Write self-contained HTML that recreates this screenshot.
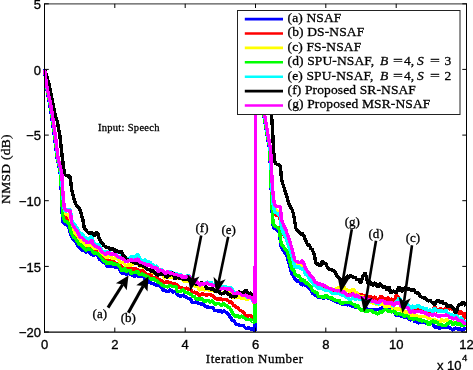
<!DOCTYPE html>
<html><head><meta charset="utf-8"><title>NMSD</title>
<style>
html,body{margin:0;padding:0;background:#fff;}
body{width:473px;height:370px;position:relative;overflow:hidden;font-family:"Liberation Sans",sans-serif;}
.t{position:absolute;white-space:nowrap;line-height:1;color:#000;}
.yt{font-family:"Liberation Sans",sans-serif;font-size:13px;-webkit-text-stroke:0.35px #000;text-align:right;width:40px;left:1px;}
.xt{font-family:"Liberation Sans",sans-serif;font-size:13px;-webkit-text-stroke:0.35px #000;text-align:center;width:40px;}
.s{font-family:"Liberation Serif",serif;-webkit-text-stroke:0.3px #000;}
.lg{-webkit-text-stroke:0.3px #000;font-family:"Liberation Serif",serif;font-size:13.5px;left:287.6px;letter-spacing:0.12px;}
.an{-webkit-text-stroke:0.3px #000;font-family:"Liberation Serif",serif;font-size:13px;text-align:center;width:30px;}
</style></head><body>
<svg width="473" height="370" viewBox="0 0 473 370" style="position:absolute;left:0;top:0">
<defs><filter id="bl" x="0" y="0" width="473" height="370" filterUnits="userSpaceOnUse"><feGaussianBlur stdDeviation="0.4"/></filter></defs>
<rect x="0" y="0" width="473" height="370" fill="#fff"/>
<g fill="none" stroke-width="3.4" stroke-linejoin="bevel" stroke-linecap="butt" shape-rendering="crispEdges" filter="url(#bl)">
<path d="M44.6 69.4 L45.5 79.4 L46.4 87.1 L47.3 91.8 L48.2 96.5 L49.1 101.3 L50.0 106.0 L50.9 112.1 L51.8 118.3 L52.7 124.4 L53.6 130.5 L54.5 136.8 L55.4 144.5 L56.3 152.1 L57.2 158.9 L58.1 162.7 L59.0 166.6 L59.9 170.4 L60.8 179.6 L61.7 203.0 L62.6 222.0 L63.5 222.7 L64.4 223.5 L65.3 224.2 L66.2 224.7 L67.1 225.4 L68.0 226.3 L68.9 227.1 L69.8 231.2 L70.7 234.8 L71.6 236.6 L72.5 238.2 L73.4 239.5 L74.3 239.9 L75.2 241.3 L76.1 242.1 L77.0 244.1 L77.9 245.6 L78.8 247.3 L79.7 247.9 L80.6 248.1 L81.5 249.4 L82.4 250.4 L83.3 250.2 L84.2 250.2 L85.1 251.7 L86.0 251.8 L86.9 252.7 L87.8 250.0 L88.7 250.5 L89.6 251.9 L90.5 253.9 L91.4 254.0 L92.3 254.8 L93.2 255.5 L94.1 254.9 L95.0 254.9 L95.9 254.2 L96.8 255.0 L97.7 255.5 L98.6 257.5 L99.5 259.4 L100.4 260.0 L101.3 260.3 L102.2 261.4 L103.1 261.5 L104.0 262.8 L104.9 263.0 L105.8 263.1 L106.7 266.7 L107.6 266.4 L108.5 266.3 L109.4 265.4 L110.3 265.8 L111.2 266.1 L112.1 265.7 L113.0 266.3 L113.9 266.7 L114.8 267.0 L115.7 267.7 L116.6 267.8 L117.5 266.6 L118.4 267.7 L119.3 268.8 L120.2 270.5 L121.1 272.5 L122.0 273.6 L122.9 273.1 L123.8 272.1 L124.7 272.1 L125.6 274.0 L126.5 274.3 L127.4 274.1 L128.3 272.6 L129.2 273.2 L130.1 273.3 L131.0 275.4 L131.9 274.8 L132.8 274.6 L133.7 275.6 L134.6 276.3 L135.5 275.4 L136.4 274.5 L137.3 275.1 L138.2 275.7 L139.1 277.1 L140.0 276.3 L140.9 276.2 L141.8 275.9 L142.7 277.0 L143.6 276.8 L144.5 278.5 L145.4 279.1 L146.3 280.0 L147.2 279.7 L148.1 280.4 L149.0 282.0 L149.9 282.7 L150.8 282.5 L151.7 283.4 L152.6 283.8 L153.5 283.9 L154.4 283.9 L155.3 284.4 L156.2 285.2 L157.1 286.1 L158.0 284.6 L158.9 285.1 L159.8 285.6 L160.7 287.0 L161.6 288.0 L162.5 289.5 L163.4 290.3 L164.3 290.0 L165.2 290.5 L166.1 291.3 L167.0 291.0 L167.9 291.6 L168.8 291.2 L169.7 290.3 L170.6 289.7 L171.5 290.7 L172.4 291.7 L173.3 292.2 L174.2 291.4 L175.1 291.5 L176.0 292.0 L176.9 294.1 L177.8 294.9 L178.7 295.5 L179.6 295.9 L180.5 296.4 L181.4 296.3 L182.3 294.7 L183.2 295.4 L184.1 296.2 L185.0 296.7 L185.9 296.8 L186.8 297.3 L187.7 298.2 L188.6 298.4 L189.5 298.5 L190.4 300.0 L191.3 300.2 L192.2 302.1 L193.1 303.3 L194.0 301.7 L194.9 302.8 L195.8 301.7 L196.7 301.7 L197.6 302.9 L198.5 303.7 L199.4 303.3 L200.3 304.0 L201.2 304.1 L202.1 303.8 L203.0 304.3 L203.9 305.0 L204.8 305.9 L205.7 306.9 L206.6 306.8 L207.5 307.2 L208.4 306.7 L209.3 307.7 L210.2 307.4 L211.1 307.7 L212.0 307.3 L212.9 307.9 L213.8 309.1 L214.7 310.6 L215.6 310.6 L216.5 310.2 L217.4 310.3 L218.3 311.1 L219.2 311.8 L220.1 310.4 L221.0 311.2 L221.9 312.5 L222.8 311.6 L223.7 310.9 L224.6 311.1 L225.5 311.9 L226.4 312.5 L227.3 312.8 L228.2 314.6 L229.1 315.2 L230.0 317.0 L230.9 317.2 L231.8 319.6 L232.7 320.8 L233.6 320.5 L234.5 322.0 L235.4 322.8 L236.3 324.5 L237.2 324.5 L238.1 324.3 L239.0 325.6 L239.9 325.8 L240.8 325.7 L241.7 325.5 L242.6 325.4 L243.5 325.5 L244.4 327.0 L245.3 327.8 L246.2 328.5 L247.1 328.3 L248.0 327.8 L248.9 327.7 L249.8 329.1 L250.7 328.9 L251.6 329.3 L252.5 329.3 L253.4 329.0 L254.3 329.3 L255.2 331.1 L255.3 69.4 L255.3 69.4 L256.2 75.8 L257.1 82.2 L258.0 87.8 L258.9 92.8 L259.8 97.8 L260.7 102.1 L261.6 106.0 L262.5 109.9 L263.4 113.7 L264.3 118.6 L265.2 124.1 L266.1 129.5 L267.0 135.0 L267.9 139.8 L268.8 144.6 L269.7 149.4 L270.6 172.7 L271.5 197.8 L272.4 216.2 L273.3 227.3 L274.2 228.1 L275.1 228.7 L276.0 229.3 L276.9 230.2 L277.8 230.9 L278.7 231.5 L279.6 234.3 L280.5 243.2 L281.4 247.6 L282.3 249.0 L283.2 250.0 L284.1 251.8 L285.0 253.5 L285.9 254.5 L286.8 255.8 L287.7 258.4 L288.6 261.8 L289.5 265.1 L290.4 269.0 L291.3 272.4 L292.2 274.9 L293.1 275.1 L294.0 277.2 L294.9 279.4 L295.8 279.8 L296.7 280.7 L297.6 281.2 L298.5 281.0 L299.4 281.5 L300.3 282.3 L301.2 284.6 L302.1 284.9 L303.0 284.6 L303.9 283.3 L304.8 284.9 L305.7 286.5 L306.6 285.5 L307.5 285.8 L308.4 287.0 L309.3 288.8 L310.2 289.3 L311.1 289.9 L312.0 292.5 L312.9 293.6 L313.8 294.0 L314.7 295.1 L315.6 296.1 L316.5 295.4 L317.4 296.1 L318.3 297.6 L319.2 297.7 L320.1 297.3 L321.0 297.6 L321.9 297.7 L322.8 297.9 L323.7 298.1 L324.6 297.7 L325.5 296.6 L326.4 297.0 L327.3 297.3 L328.2 298.4 L329.1 298.1 L330.0 298.7 L330.9 299.0 L331.8 299.1 L332.7 299.7 L333.6 300.5 L334.5 300.9 L335.4 301.3 L336.3 301.7 L337.2 302.1 L338.1 301.9 L339.0 301.6 L339.9 303.2 L340.8 303.9 L341.7 303.5 L342.6 304.3 L343.5 304.5 L344.4 303.9 L345.3 304.0 L346.2 304.0 L347.1 305.0 L348.0 305.0 L348.9 304.1 L349.8 304.5 L350.7 305.4 L351.6 305.6 L352.5 306.4 L353.4 306.4 L354.3 306.5 L355.2 307.3 L356.1 307.6 L357.0 306.6 L357.9 307.2 L358.8 308.3 L359.7 309.2 L360.6 309.6 L361.5 309.2 L362.4 309.5 L363.3 309.8 L364.2 309.9 L365.1 309.9 L366.0 309.4 L366.9 309.0 L367.8 308.9 L368.7 310.1 L369.6 309.9 L370.5 310.3 L371.4 309.2 L372.3 309.4 L373.2 309.7 L374.1 309.9 L375.0 309.6 L375.9 309.5 L376.8 309.7 L377.7 309.5 L378.6 309.4 L379.5 309.4 L380.4 308.9 L381.3 308.9 L382.2 308.6 L383.1 307.1 L384.0 307.0 L384.9 308.0 L385.8 308.1 L386.7 308.7 L387.6 309.4 L388.5 310.8 L389.4 310.9 L390.3 309.3 L391.2 309.9 L392.1 311.2 L393.0 311.7 L393.9 312.4 L394.8 313.0 L395.7 314.7 L396.6 315.5 L397.5 315.6 L398.4 314.9 L399.3 315.2 L400.2 315.8 L401.1 316.0 L402.0 316.5 L402.9 316.7 L403.8 316.9 L404.7 317.5 L405.6 317.3 L406.5 317.2 L407.4 317.6 L408.3 318.2 L409.2 319.3 L410.1 319.8 L411.0 319.8 L411.9 319.0 L412.8 319.6 L413.7 320.1 L414.6 321.3 L415.5 321.6 L416.4 321.8 L417.3 322.0 L418.2 322.8 L419.1 322.8 L420.0 321.4 L420.9 320.7 L421.8 321.7 L422.7 323.1 L423.6 321.9 L424.5 321.4 L425.4 322.6 L426.3 323.1 L427.2 323.4 L428.1 324.1 L429.0 324.0 L429.9 324.2 L430.8 323.8 L431.7 323.6 L432.6 323.4 L433.5 325.5 L434.4 327.4 L435.3 326.9 L436.2 327.1 L437.1 327.1 L438.0 327.6 L438.9 328.5 L439.8 328.3 L440.7 327.7 L441.6 326.2 L442.5 327.4 L443.4 326.9 L444.3 327.4 L445.2 327.4 L446.1 327.8 L447.0 327.5 L447.9 327.1 L448.8 327.3 L449.7 327.5 L450.6 328.3 L451.5 329.0 L452.4 329.9 L453.3 329.9 L454.2 328.8 L455.1 327.9 L456.0 328.4 L456.9 328.5 L457.8 329.0 L458.7 328.9 L459.6 328.6 L460.5 329.5 L461.4 329.7 L462.3 330.0 L463.2 329.5 L464.1 328.9 L465.0 328.9 L465.9 329.5" stroke="#0000ff"/>
<path d="M44.6 69.4 L45.5 77.4 L46.4 84.9 L47.3 89.5 L48.2 93.9 L49.1 98.3 L50.0 102.7 L50.9 107.6 L51.8 113.7 L52.7 119.9 L53.6 126.2 L54.5 132.5 L55.4 139.3 L56.3 147.0 L57.2 154.4 L58.1 160.3 L59.0 164.0 L59.9 167.8 L60.8 174.1 L61.7 187.7 L62.6 204.8 L63.5 211.5 L64.4 216.2 L65.3 217.0 L66.2 217.7 L67.1 218.0 L68.0 218.5 L68.9 218.9 L69.8 221.4 L70.7 224.9 L71.6 229.5 L72.5 231.9 L73.4 233.0 L74.3 233.8 L75.2 235.3 L76.1 236.7 L77.0 238.1 L77.9 239.2 L78.8 240.8 L79.7 242.5 L80.6 242.9 L81.5 244.0 L82.4 244.1 L83.3 244.6 L84.2 245.9 L85.1 247.6 L86.0 247.0 L86.9 248.1 L87.8 246.6 L88.7 247.1 L89.6 248.4 L90.5 247.8 L91.4 247.4 L92.3 247.9 L93.2 250.5 L94.1 251.5 L95.0 251.4 L95.9 249.9 L96.8 251.1 L97.7 251.4 L98.6 252.3 L99.5 253.9 L100.4 254.5 L101.3 254.7 L102.2 256.3 L103.1 257.3 L104.0 259.5 L104.9 259.9 L105.8 260.5 L106.7 262.0 L107.6 260.9 L108.5 260.1 L109.4 260.3 L110.3 261.4 L111.2 261.8 L112.1 260.8 L113.0 261.1 L113.9 262.0 L114.8 263.4 L115.7 263.9 L116.6 264.5 L117.5 263.2 L118.4 263.4 L119.3 265.2 L120.2 265.6 L121.1 266.5 L122.0 266.5 L122.9 267.9 L123.8 268.0 L124.7 267.9 L125.6 268.7 L126.5 269.4 L127.4 270.0 L128.3 268.1 L129.2 268.3 L130.1 268.0 L131.0 269.2 L131.9 269.0 L132.8 268.8 L133.7 269.2 L134.6 269.5 L135.5 268.8 L136.4 269.2 L137.3 269.5 L138.2 270.0 L139.1 271.5 L140.0 271.2 L140.9 271.5 L141.8 270.1 L142.7 270.9 L143.6 271.3 L144.5 272.8 L145.4 273.1 L146.3 274.4 L147.2 274.8 L148.1 274.9 L149.0 275.7 L149.9 274.1 L150.8 274.3 L151.7 275.6 L152.6 277.8 L153.5 277.7 L154.4 278.2 L155.3 278.2 L156.2 277.9 L157.1 278.5 L158.0 279.4 L158.9 279.6 L159.8 279.8 L160.7 280.3 L161.6 280.5 L162.5 281.6 L163.4 282.0 L164.3 282.5 L165.2 282.8 L166.1 281.9 L167.0 281.5 L167.9 281.9 L168.8 283.1 L169.7 282.5 L170.6 282.2 L171.5 283.2 L172.4 283.5 L173.3 283.8 L174.2 283.7 L175.1 283.9 L176.0 285.0 L176.9 284.7 L177.8 285.2 L178.7 286.8 L179.6 287.8 L180.5 287.2 L181.4 287.2 L182.3 288.3 L183.2 288.5 L184.1 289.5 L185.0 289.0 L185.9 288.0 L186.8 288.4 L187.7 288.8 L188.6 289.4 L189.5 289.5 L190.4 289.9 L191.3 290.2 L192.2 291.9 L193.1 292.9 L194.0 291.9 L194.9 292.4 L195.8 293.2 L196.7 293.0 L197.6 293.0 L198.5 294.6 L199.4 295.2 L200.3 295.1 L201.2 294.7 L202.1 293.8 L203.0 294.1 L203.9 294.9 L204.8 294.4 L205.7 294.9 L206.6 295.0 L207.5 294.8 L208.4 294.6 L209.3 294.9 L210.2 294.5 L211.1 294.9 L212.0 295.4 L212.9 295.9 L213.8 296.7 L214.7 297.9 L215.6 298.2 L216.5 298.6 L217.4 299.4 L218.3 300.2 L219.2 299.4 L220.1 297.6 L221.0 298.6 L221.9 300.2 L222.8 299.8 L223.7 299.6 L224.6 299.8 L225.5 299.5 L226.4 299.5 L227.3 300.0 L228.2 300.8 L229.1 301.6 L230.0 303.0 L230.9 301.5 L231.8 302.1 L232.7 304.0 L233.6 305.9 L234.5 305.8 L235.4 306.5 L236.3 307.3 L237.2 307.5 L238.1 308.1 L239.0 309.6 L239.9 310.5 L240.8 310.7 L241.7 311.0 L242.6 311.7 L243.5 311.7 L244.4 314.3 L245.3 315.0 L246.2 315.6 L247.1 316.2 L248.0 316.4 L248.9 315.4 L249.8 315.7 L250.7 316.1 L251.6 316.1 L252.5 316.9 L253.4 317.0 L254.3 317.3 L255.2 318.3 L255.3 69.4 L255.3 69.4 L256.2 74.9 L257.1 80.3 L258.0 85.7 L258.9 90.3 L259.8 95.0 L260.7 99.5 L261.6 103.4 L262.5 107.2 L263.4 110.9 L264.3 115.0 L265.2 120.0 L266.1 125.5 L267.0 131.0 L267.9 136.3 L268.8 141.2 L269.7 146.1 L270.6 158.0 L271.5 180.4 L272.4 198.6 L273.3 208.4 L274.2 212.7 L275.1 214.2 L276.0 215.0 L276.9 215.4 L277.8 215.7 L278.7 216.0 L279.6 217.3 L280.5 220.6 L281.4 229.7 L282.3 231.8 L283.2 233.7 L284.1 235.6 L285.0 237.4 L285.9 238.5 L286.8 240.0 L287.7 241.7 L288.6 244.5 L289.5 247.8 L290.4 252.0 L291.3 254.7 L292.2 257.9 L293.1 260.4 L294.0 263.6 L294.9 266.6 L295.8 266.8 L296.7 267.7 L297.6 267.7 L298.5 267.7 L299.4 267.3 L300.3 268.2 L301.2 268.6 L302.1 268.4 L303.0 268.5 L303.9 269.0 L304.8 270.9 L305.7 273.1 L306.6 273.2 L307.5 274.1 L308.4 275.4 L309.3 277.9 L310.2 278.6 L311.1 279.4 L312.0 280.4 L312.9 281.5 L313.8 283.3 L314.7 285.1 L315.6 285.9 L316.5 284.4 L317.4 286.6 L318.3 288.0 L319.2 288.2 L320.1 287.6 L321.0 287.8 L321.9 288.5 L322.8 285.9 L323.7 285.6 L324.6 286.5 L325.5 289.0 L326.4 288.8 L327.3 288.3 L328.2 289.5 L329.1 290.1 L330.0 290.6 L330.9 290.6 L331.8 290.8 L332.7 292.1 L333.6 291.8 L334.5 291.8 L335.4 292.3 L336.3 292.3 L337.2 292.4 L338.1 292.0 L339.0 291.6 L339.9 291.5 L340.8 292.1 L341.7 291.8 L342.6 291.8 L343.5 291.9 L344.4 292.5 L345.3 293.5 L346.2 294.0 L347.1 296.0 L348.0 295.1 L348.9 295.7 L349.8 294.2 L350.7 293.2 L351.6 293.2 L352.5 291.5 L353.4 291.8 L354.3 293.6 L355.2 295.1 L356.1 293.6 L357.0 293.9 L357.9 294.3 L358.8 294.4 L359.7 296.3 L360.6 294.5 L361.5 294.5 L362.4 294.9 L363.3 295.5 L364.2 297.1 L365.1 296.8 L366.0 295.8 L366.9 295.8 L367.8 297.4 L368.7 296.7 L369.6 297.2 L370.5 297.0 L371.4 297.2 L372.3 298.8 L373.2 299.1 L374.1 297.3 L375.0 297.0 L375.9 298.4 L376.8 300.6 L377.7 300.9 L378.6 301.7 L379.5 298.0 L380.4 296.9 L381.3 296.5 L382.2 296.5 L383.1 298.2 L384.0 298.0 L384.9 300.0 L385.8 300.7 L386.7 300.1 L387.6 298.0 L388.5 297.8 L389.4 299.1 L390.3 300.2 L391.2 299.4 L392.1 298.7 L393.0 300.5 L393.9 300.8 L394.8 300.1 L395.7 295.9 L396.6 295.6 L397.5 296.3 L398.4 297.6 L399.3 298.7 L400.2 299.4 L401.1 303.3 L402.0 302.4 L402.9 303.6 L403.8 303.2 L404.7 304.1 L405.6 305.7 L406.5 305.3 L407.4 305.4 L408.3 305.5 L409.2 309.1 L410.1 311.4 L411.0 312.6 L411.9 309.5 L412.8 308.7 L413.7 309.7 L414.6 311.5 L415.5 310.4 L416.4 309.6 L417.3 307.8 L418.2 308.5 L419.1 307.7 L420.0 307.3 L420.9 308.5 L421.8 307.8 L422.7 309.0 L423.6 309.0 L424.5 310.2 L425.4 309.6 L426.3 308.7 L427.2 310.6 L428.1 311.6 L429.0 310.6 L429.9 310.7 L430.8 311.4 L431.7 312.1 L432.6 313.9 L433.5 309.1 L434.4 306.6 L435.3 307.6 L436.2 309.7 L437.1 310.6 L438.0 311.8 L438.9 311.0 L439.8 309.3 L440.7 308.5 L441.6 309.2 L442.5 309.7 L443.4 309.2 L444.3 309.8 L445.2 310.0 L446.1 307.2 L447.0 307.3 L447.9 308.2 L448.8 308.8 L449.7 309.1 L450.6 307.4 L451.5 308.0 L452.4 309.8 L453.3 309.6 L454.2 310.7 L455.1 309.5 L456.0 309.8 L456.9 309.5 L457.8 311.6 L458.7 313.5 L459.6 313.4 L460.5 311.3 L461.4 312.1 L462.3 313.4 L463.2 314.4 L464.1 317.8 L465.0 318.1 L465.9 312.5" stroke="#ff0000"/>
<path d="M44.6 69.4 L45.5 77.1 L46.4 84.5 L47.3 89.2 L48.2 93.5 L49.1 97.8 L50.0 102.1 L50.9 106.7 L51.8 112.7 L52.7 118.9 L53.6 125.1 L54.5 131.4 L55.4 137.9 L56.3 145.6 L57.2 153.1 L58.1 159.5 L59.0 163.2 L59.9 166.9 L60.8 172.1 L61.7 181.6 L62.6 197.9 L63.5 206.9 L64.4 213.1 L65.3 213.9 L66.2 214.7 L67.1 214.7 L68.0 215.0 L68.9 215.4 L69.8 216.6 L70.7 220.5 L71.6 226.6 L72.5 228.8 L73.4 230.2 L74.3 231.7 L75.2 233.1 L76.1 234.5 L77.0 234.9 L77.9 236.3 L78.8 238.4 L79.7 240.0 L80.6 240.3 L81.5 241.2 L82.4 241.6 L83.3 242.7 L84.2 243.0 L85.1 244.2 L86.0 244.8 L86.9 246.7 L87.8 244.1 L88.7 243.6 L89.6 245.3 L90.5 244.9 L91.4 243.9 L92.3 244.9 L93.2 248.3 L94.1 248.2 L95.0 248.1 L95.9 247.2 L96.8 248.0 L97.7 248.7 L98.6 249.0 L99.5 250.5 L100.4 251.3 L101.3 253.4 L102.2 254.3 L103.1 255.0 L104.0 254.7 L104.9 255.8 L105.8 256.7 L106.7 257.5 L107.6 256.6 L108.5 257.1 L109.4 256.6 L110.3 256.6 L111.2 257.2 L112.1 258.2 L113.0 258.3 L113.9 258.7 L114.8 257.9 L115.7 258.0 L116.6 258.3 L117.5 258.5 L118.4 259.6 L119.3 261.1 L120.2 262.3 L121.1 262.8 L122.0 261.7 L122.9 262.7 L123.8 263.2 L124.7 264.1 L125.6 265.7 L126.5 265.7 L127.4 265.2 L128.3 265.0 L129.2 265.5 L130.1 264.8 L131.0 265.2 L131.9 264.8 L132.8 264.3 L133.7 264.0 L134.6 263.4 L135.5 262.4 L136.4 262.7 L137.3 263.1 L138.2 262.9 L139.1 265.7 L140.0 265.9 L140.9 265.7 L141.8 266.1 L142.7 267.0 L143.6 266.9 L144.5 266.8 L145.4 267.6 L146.3 268.0 L147.2 269.3 L148.1 269.2 L149.0 269.5 L149.9 270.5 L150.8 271.1 L151.7 271.9 L152.6 272.6 L153.5 273.1 L154.4 272.8 L155.3 272.7 L156.2 272.1 L157.1 272.3 L158.0 274.8 L158.9 274.2 L159.8 273.6 L160.7 274.1 L161.6 274.8 L162.5 274.6 L163.4 276.1 L164.3 277.6 L165.2 278.3 L166.1 276.6 L167.0 276.8 L167.9 276.5 L168.8 277.0 L169.7 277.6 L170.6 277.6 L171.5 276.9 L172.4 276.1 L173.3 276.6 L174.2 278.6 L175.1 278.2 L176.0 278.4 L176.9 278.2 L177.8 278.4 L178.7 278.0 L179.6 277.9 L180.5 277.9 L181.4 279.0 L182.3 279.9 L183.2 280.1 L184.1 280.2 L185.0 281.7 L185.9 281.5 L186.8 281.2 L187.7 280.7 L188.6 281.3 L189.5 280.6 L190.4 282.1 L191.3 282.6 L192.2 282.8 L193.1 284.4 L194.0 284.9 L194.9 285.7 L195.8 286.5 L196.7 286.7 L197.6 286.1 L198.5 288.1 L199.4 289.8 L200.3 290.3 L201.2 288.4 L202.1 287.7 L203.0 288.7 L203.9 290.2 L204.8 289.7 L205.7 289.3 L206.6 288.6 L207.5 289.0 L208.4 289.8 L209.3 290.4 L210.2 289.7 L211.1 289.1 L212.0 290.5 L212.9 290.8 L213.8 291.0 L214.7 290.8 L215.6 291.4 L216.5 291.5 L217.4 290.9 L218.3 291.8 L219.2 291.8 L220.1 293.1 L221.0 293.0 L221.9 294.0 L222.8 292.6 L223.7 292.1 L224.6 292.3 L225.5 292.4 L226.4 292.1 L227.3 292.5 L228.2 293.3 L229.1 292.4 L230.0 292.4 L230.9 294.2 L231.8 295.4 L232.7 296.5 L233.6 297.8 L234.5 297.5 L235.4 298.1 L236.3 297.4 L237.2 295.9 L238.1 296.2 L239.0 297.3 L239.9 297.5 L240.8 298.2 L241.7 298.5 L242.6 298.7 L243.5 298.7 L244.4 298.2 L245.3 298.1 L246.2 297.8 L247.1 300.0 L248.0 299.6 L248.9 298.7 L249.8 297.7 L250.7 298.3 L251.6 298.9 L252.5 300.5 L253.4 302.1 L254.3 304.0 L255.2 303.0 L255.3 69.4 L255.3 69.4 L256.2 74.7 L257.1 80.1 L258.0 85.3 L258.9 89.9 L259.8 94.5 L260.7 99.0 L261.6 102.9 L262.5 106.6 L263.4 110.3 L264.3 114.2 L265.2 119.0 L266.1 124.5 L267.0 130.0 L267.9 135.3 L268.8 140.2 L269.7 145.1 L270.6 153.4 L271.5 174.8 L272.4 192.8 L273.3 202.3 L274.2 207.7 L275.1 209.5 L276.0 210.4 L276.9 210.8 L277.8 211.2 L278.7 211.4 L279.6 212.0 L280.5 213.7 L281.4 224.6 L282.3 227.1 L283.2 228.8 L284.1 230.5 L285.0 232.4 L285.9 233.8 L286.8 236.4 L287.7 239.0 L288.6 241.3 L289.5 244.2 L290.4 247.8 L291.3 250.8 L292.2 253.9 L293.1 256.5 L294.0 260.6 L294.9 263.9 L295.8 264.1 L296.7 264.0 L297.6 264.5 L298.5 266.1 L299.4 265.7 L300.3 267.4 L301.2 264.6 L302.1 263.6 L303.0 263.9 L303.9 267.2 L304.8 269.4 L305.7 271.2 L306.6 271.3 L307.5 272.2 L308.4 272.6 L309.3 275.4 L310.2 276.4 L311.1 276.9 L312.0 278.7 L312.9 279.6 L313.8 280.6 L314.7 283.7 L315.6 284.1 L316.5 284.0 L317.4 283.8 L318.3 284.4 L319.2 284.2 L320.1 284.6 L321.0 284.9 L321.9 286.2 L322.8 285.8 L323.7 285.7 L324.6 286.1 L325.5 287.2 L326.4 287.0 L327.3 286.7 L328.2 288.0 L329.1 288.6 L330.0 288.4 L330.9 288.4 L331.8 289.0 L332.7 289.7 L333.6 288.9 L334.5 289.6 L335.4 290.0 L336.3 288.7 L337.2 288.4 L338.1 287.8 L339.0 288.0 L339.9 288.0 L340.8 289.0 L341.7 289.1 L342.6 288.3 L343.5 288.2 L344.4 287.2 L345.3 289.0 L346.2 289.3 L347.1 290.8 L348.0 290.7 L348.9 291.0 L349.8 291.4 L350.7 290.7 L351.6 291.2 L352.5 289.0 L353.4 289.4 L354.3 290.2 L355.2 293.9 L356.1 292.7 L357.0 292.8 L357.9 294.5 L358.8 295.2 L359.7 297.3 L360.6 296.5 L361.5 296.2 L362.4 296.6 L363.3 297.8 L364.2 298.7 L365.1 298.7 L366.0 298.7 L366.9 300.0 L367.8 300.3 L368.7 299.3 L369.6 300.4 L370.5 301.4 L371.4 302.4 L372.3 302.5 L373.2 303.4 L374.1 303.0 L375.0 303.8 L375.9 304.3 L376.8 304.2 L377.7 304.3 L378.6 304.5 L379.5 303.4 L380.4 303.4 L381.3 304.4 L382.2 304.0 L383.1 303.5 L384.0 304.5 L384.9 306.9 L385.8 306.9 L386.7 307.0 L387.6 306.1 L388.5 306.5 L389.4 307.1 L390.3 306.0 L391.2 306.9 L392.1 307.5 L393.0 309.8 L393.9 310.1 L394.8 308.9 L395.7 308.6 L396.6 309.5 L397.5 309.2 L398.4 308.8 L399.3 309.3 L400.2 308.5 L401.1 310.2 L402.0 311.0 L402.9 311.8 L403.8 311.7 L404.7 312.5 L405.6 312.2 L406.5 311.4 L407.4 311.3 L408.3 311.5 L409.2 315.5 L410.1 316.6 L411.0 317.2 L411.9 315.2 L412.8 315.0 L413.7 315.4 L414.6 316.6 L415.5 316.4 L416.4 315.8 L417.3 316.3 L418.2 317.1 L419.1 316.4 L420.0 316.5 L420.9 316.3 L421.8 316.2 L422.7 317.1 L423.6 316.4 L424.5 316.8 L425.4 316.8 L426.3 316.7 L427.2 316.4 L428.1 318.2 L429.0 318.2 L429.9 318.3 L430.8 319.3 L431.7 319.4 L432.6 319.8 L433.5 320.6 L434.4 320.2 L435.3 319.6 L436.2 321.2 L437.1 321.0 L438.0 321.3 L438.9 321.9 L439.8 322.0 L440.7 321.1 L441.6 319.1 L442.5 320.4 L443.4 320.9 L444.3 321.1 L445.2 320.7 L446.1 319.9 L447.0 319.8 L447.9 320.5 L448.8 321.3 L449.7 322.7 L450.6 322.3 L451.5 323.2 L452.4 323.3 L453.3 323.6 L454.2 322.7 L455.1 322.9 L456.0 322.8 L456.9 322.4 L457.8 322.8 L458.7 324.3 L459.6 323.6 L460.5 322.9 L461.4 323.4 L462.3 324.3 L463.2 323.5 L464.1 324.2 L465.0 325.3 L465.9 323.2" stroke="#ffff00"/>
<path d="M44.6 69.4 L45.5 77.7 L46.4 85.2 L47.3 89.9 L48.2 94.4 L49.1 99.0 L50.0 103.5 L50.9 108.8 L51.8 115.0 L52.7 121.3 L53.6 127.6 L54.5 134.0 L55.4 141.2 L56.3 149.0 L57.2 156.3 L58.1 161.4 L59.0 165.3 L59.9 169.2 L60.8 177.1 L61.7 196.7 L62.6 215.1 L63.5 218.2 L64.4 220.5 L65.3 221.3 L66.2 221.6 L67.1 222.0 L68.0 222.7 L68.9 224.0 L69.8 227.3 L70.7 230.9 L71.6 233.6 L72.5 235.4 L73.4 237.1 L74.3 237.6 L75.2 238.7 L76.1 239.6 L77.0 241.2 L77.9 242.3 L78.8 243.9 L79.7 244.3 L80.6 244.6 L81.5 245.8 L82.4 246.8 L83.3 247.0 L84.2 247.7 L85.1 249.5 L86.0 249.4 L86.9 250.6 L87.8 248.8 L88.7 248.4 L89.6 249.1 L90.5 249.4 L91.4 249.8 L92.3 251.0 L93.2 252.7 L94.1 252.3 L95.0 253.7 L95.9 253.2 L96.8 252.9 L97.7 253.9 L98.6 255.0 L99.5 255.6 L100.4 256.5 L101.3 257.8 L102.2 258.7 L103.1 259.9 L104.0 261.3 L104.9 261.0 L105.8 261.8 L106.7 263.9 L107.6 262.4 L108.5 263.4 L109.4 263.1 L110.3 263.2 L111.2 263.0 L112.1 263.0 L113.0 263.9 L113.9 264.2 L114.8 264.1 L115.7 264.2 L116.6 264.4 L117.5 264.4 L118.4 265.4 L119.3 266.2 L120.2 267.9 L121.1 269.4 L122.0 270.7 L122.9 270.3 L123.8 269.0 L124.7 268.2 L125.6 270.9 L126.5 271.7 L127.4 271.3 L128.3 269.8 L129.2 270.4 L130.1 269.7 L131.0 273.6 L131.9 273.5 L132.8 272.8 L133.7 272.3 L134.6 272.6 L135.5 272.4 L136.4 270.9 L137.3 271.7 L138.2 272.0 L139.1 274.8 L140.0 274.6 L140.9 275.0 L141.8 273.4 L142.7 274.4 L143.6 274.2 L144.5 275.3 L145.4 275.6 L146.3 276.4 L147.2 276.6 L148.1 277.4 L149.0 277.9 L149.9 278.1 L150.8 278.6 L151.7 280.1 L152.6 279.0 L153.5 278.5 L154.4 278.6 L155.3 280.4 L156.2 280.4 L157.1 280.9 L158.0 281.9 L158.9 282.7 L159.8 283.0 L160.7 284.3 L161.6 284.5 L162.5 285.1 L163.4 286.3 L164.3 286.1 L165.2 286.5 L166.1 286.2 L167.0 286.8 L167.9 287.3 L168.8 285.9 L169.7 285.7 L170.6 285.4 L171.5 286.0 L172.4 286.4 L173.3 286.4 L174.2 286.5 L175.1 286.7 L176.0 286.8 L176.9 290.2 L177.8 291.5 L178.7 291.5 L179.6 291.6 L180.5 291.7 L181.4 291.4 L182.3 289.4 L183.2 290.5 L184.1 291.1 L185.0 292.2 L185.9 292.7 L186.8 291.9 L187.7 293.1 L188.6 293.8 L189.5 293.8 L190.4 294.3 L191.3 294.6 L192.2 295.9 L193.1 296.7 L194.0 296.0 L194.9 297.5 L195.8 298.5 L196.7 298.7 L197.6 299.2 L198.5 298.8 L199.4 299.1 L200.3 299.9 L201.2 298.6 L202.1 298.7 L203.0 299.6 L203.9 301.0 L204.8 301.5 L205.7 301.5 L206.6 300.5 L207.5 300.6 L208.4 300.3 L209.3 301.8 L210.2 302.1 L211.1 301.3 L212.0 300.7 L212.9 301.8 L213.8 302.8 L214.7 304.4 L215.6 304.2 L216.5 303.5 L217.4 303.1 L218.3 303.6 L219.2 303.7 L220.1 304.3 L221.0 304.7 L221.9 305.9 L222.8 304.4 L223.7 303.6 L224.6 304.3 L225.5 305.2 L226.4 305.8 L227.3 306.1 L228.2 307.3 L229.1 307.4 L230.0 308.5 L230.9 309.4 L231.8 311.8 L232.7 313.4 L233.6 314.3 L234.5 315.3 L235.4 316.2 L236.3 316.3 L237.2 315.3 L238.1 315.4 L239.0 317.6 L239.9 317.4 L240.8 316.2 L241.7 316.0 L242.6 316.9 L243.5 317.0 L244.4 317.8 L245.3 318.9 L246.2 319.0 L247.1 319.3 L248.0 319.6 L248.9 319.3 L249.8 319.4 L250.7 319.7 L251.6 320.7 L252.5 321.5 L253.4 321.5 L254.3 321.9 L255.2 322.9 L255.3 69.4 L255.3 69.4 L256.2 75.7 L257.1 81.9 L258.0 87.4 L258.9 92.3 L259.8 97.2 L260.7 101.4 L261.6 105.1 L262.5 108.9 L263.4 112.6 L264.3 117.4 L265.2 122.7 L266.1 128.0 L267.0 133.4 L267.9 138.1 L268.8 142.7 L269.7 147.4 L270.6 170.6 L271.5 195.5 L272.4 213.8 L273.3 224.7 L274.2 225.4 L275.1 226.0 L276.0 226.5 L276.9 227.2 L277.8 227.8 L278.7 228.4 L279.6 230.9 L280.5 239.7 L281.4 243.9 L282.3 245.1 L283.2 245.9 L284.1 247.7 L285.0 249.0 L285.9 249.8 L286.8 250.7 L287.7 252.9 L288.6 256.9 L289.5 259.9 L290.4 263.6 L291.3 267.6 L292.2 269.8 L293.1 269.1 L294.0 271.2 L294.9 273.9 L295.8 274.8 L296.7 275.6 L297.6 275.9 L298.5 275.8 L299.4 276.3 L300.3 278.2 L301.2 280.3 L302.1 280.6 L303.0 280.0 L303.9 279.6 L304.8 281.6 L305.7 283.6 L306.6 282.6 L307.5 282.8 L308.4 284.2 L309.3 285.0 L310.2 285.6 L311.1 286.9 L312.0 289.7 L312.9 290.5 L313.8 291.2 L314.7 291.3 L315.6 292.6 L316.5 292.4 L317.4 293.9 L318.3 296.4 L319.2 296.9 L320.1 296.5 L321.0 296.3 L321.9 296.8 L322.8 297.6 L323.7 298.2 L324.6 297.1 L325.5 294.8 L326.4 296.0 L327.3 295.8 L328.2 297.0 L329.1 297.4 L330.0 298.1 L330.9 297.7 L331.8 297.6 L332.7 298.5 L333.6 299.7 L334.5 299.9 L335.4 300.3 L336.3 300.2 L337.2 300.9 L338.1 300.5 L339.0 299.6 L339.9 302.4 L340.8 303.1 L341.7 302.9 L342.6 303.6 L343.5 302.7 L344.4 302.1 L345.3 302.7 L346.2 302.1 L347.1 302.6 L348.0 302.9 L348.9 301.5 L349.8 301.5 L350.7 302.6 L351.6 303.2 L352.5 304.1 L353.4 304.7 L354.3 304.4 L355.2 305.5 L356.1 306.9 L357.0 305.4 L357.9 305.2 L358.8 307.3 L359.7 309.2 L360.6 310.2 L361.5 309.7 L362.4 309.8 L363.3 310.0 L364.2 310.8 L365.1 311.0 L366.0 311.2 L366.9 310.8 L367.8 311.0 L368.7 310.8 L369.6 310.0 L370.5 310.7 L371.4 310.3 L372.3 311.4 L373.2 312.0 L374.1 312.5 L375.0 312.6 L375.9 312.6 L376.8 313.8 L377.7 313.8 L378.6 313.5 L379.5 311.9 L380.4 311.2 L381.3 312.1 L382.2 312.3 L383.1 310.3 L384.0 310.3 L384.9 309.6 L385.8 309.8 L386.7 309.7 L387.6 310.7 L388.5 311.8 L389.4 311.1 L390.3 311.1 L391.2 311.7 L392.1 311.9 L393.0 310.9 L393.9 311.4 L394.8 311.4 L395.7 313.5 L396.6 314.0 L397.5 314.1 L398.4 313.1 L399.3 313.4 L400.2 314.3 L401.1 314.0 L402.0 314.6 L402.9 314.8 L403.8 315.7 L404.7 316.4 L405.6 316.0 L406.5 315.7 L407.4 315.9 L408.3 316.4 L409.2 317.8 L410.1 318.7 L411.0 318.2 L411.9 318.6 L412.8 319.2 L413.7 319.3 L414.6 318.7 L415.5 318.7 L416.4 319.0 L417.3 319.0 L418.2 319.6 L419.1 320.4 L420.0 320.2 L420.9 319.2 L421.8 320.5 L422.7 321.4 L423.6 320.3 L424.5 321.0 L425.4 321.3 L426.3 321.7 L427.2 322.0 L428.1 323.9 L429.0 324.7 L429.9 324.3 L430.8 322.5 L431.7 321.7 L432.6 320.9 L433.5 321.2 L434.4 322.7 L435.3 321.9 L436.2 322.2 L437.1 322.1 L438.0 323.5 L438.9 324.6 L439.8 324.9 L440.7 324.5 L441.6 323.9 L442.5 326.1 L443.4 325.3 L444.3 325.3 L445.2 325.5 L446.1 325.1 L447.0 324.4 L447.9 323.2 L448.8 323.4 L449.7 321.4 L450.6 321.6 L451.5 322.4 L452.4 324.2 L453.3 324.8 L454.2 323.6 L455.1 322.4 L456.0 323.6 L456.9 324.4 L457.8 324.1 L458.7 323.4 L459.6 323.8 L460.5 325.1 L461.4 325.0 L462.3 325.3 L463.2 325.3 L464.1 324.7 L465.0 324.6 L465.9 325.8" stroke="#00ff00"/>
<path d="M44.6 69.4 L45.5 76.8 L46.4 84.3 L47.3 88.8 L48.2 93.1 L49.1 97.4 L50.0 101.6 L50.9 106.0 L51.8 112.0 L52.7 118.2 L53.6 124.5 L54.5 130.7 L55.4 137.1 L56.3 144.8 L57.2 152.3 L58.1 159.1 L59.0 162.7 L59.9 166.4 L60.8 171.0 L61.7 178.6 L62.6 193.8 L63.5 203.5 L64.4 210.5 L65.3 211.0 L66.2 211.2 L67.1 210.7 L68.0 210.1 L68.9 209.7 L69.8 208.9 L70.7 212.1 L71.6 220.1 L72.5 222.4 L73.4 223.2 L74.3 224.4 L75.2 225.5 L76.1 227.0 L77.0 227.7 L77.9 229.5 L78.8 230.9 L79.7 233.2 L80.6 234.5 L81.5 234.2 L82.4 233.5 L83.3 235.7 L84.2 237.9 L85.1 237.6 L86.0 238.0 L86.9 239.5 L87.8 239.5 L88.7 238.7 L89.6 239.3 L90.5 237.0 L91.4 236.3 L92.3 237.1 L93.2 241.8 L94.1 243.3 L95.0 244.5 L95.9 244.5 L96.8 245.3 L97.7 246.2 L98.6 244.2 L99.5 245.6 L100.4 247.8 L101.3 250.0 L102.2 251.5 L103.1 252.2 L104.0 251.2 L104.9 252.9 L105.8 253.7 L106.7 252.0 L107.6 250.9 L108.5 251.5 L109.4 252.9 L110.3 254.0 L111.2 254.8 L112.1 253.8 L113.0 253.8 L113.9 254.4 L114.8 253.8 L115.7 253.8 L116.6 254.8 L117.5 256.5 L118.4 256.7 L119.3 258.4 L120.2 256.4 L121.1 256.0 L122.0 255.7 L122.9 257.0 L123.8 257.6 L124.7 258.2 L125.6 259.5 L126.5 259.3 L127.4 259.1 L128.3 258.9 L129.2 258.4 L130.1 258.5 L131.0 256.8 L131.9 256.6 L132.8 256.5 L133.7 257.3 L134.6 256.3 L135.5 256.7 L136.4 255.8 L137.3 254.8 L138.2 254.8 L139.1 256.9 L140.0 258.8 L140.9 259.5 L141.8 260.7 L142.7 260.6 L143.6 260.9 L144.5 259.8 L145.4 260.2 L146.3 261.0 L147.2 261.5 L148.1 261.5 L149.0 261.9 L149.9 262.1 L150.8 263.3 L151.7 265.3 L152.6 264.9 L153.5 264.8 L154.4 266.0 L155.3 267.0 L156.2 266.3 L157.1 266.0 L158.0 270.3 L158.9 270.3 L159.8 270.1 L160.7 269.5 L161.6 269.9 L162.5 269.6 L163.4 271.0 L164.3 271.9 L165.2 272.6 L166.1 272.2 L167.0 272.3 L167.9 272.0 L168.8 271.8 L169.7 272.5 L170.6 271.5 L171.5 272.4 L172.4 272.8 L173.3 273.3 L174.2 274.2 L175.1 273.8 L176.0 274.3 L176.9 273.9 L177.8 274.4 L178.7 274.8 L179.6 275.7 L180.5 274.7 L181.4 275.4 L182.3 277.0 L183.2 276.8 L184.1 276.8 L185.0 277.5 L185.9 277.5 L186.8 276.6 L187.7 275.3 L188.6 275.7 L189.5 276.2 L190.4 278.1 L191.3 278.8 L192.2 279.3 L193.1 279.7 L194.0 280.6 L194.9 281.7 L195.8 283.7 L196.7 283.4 L197.6 282.5 L198.5 283.2 L199.4 285.2 L200.3 284.9 L201.2 284.2 L202.1 284.1 L203.0 284.6 L203.9 284.7 L204.8 283.3 L205.7 283.0 L206.6 281.9 L207.5 282.4 L208.4 283.4 L209.3 283.2 L210.2 282.7 L211.1 281.9 L212.0 284.2 L212.9 284.7 L213.8 286.1 L214.7 283.4 L215.6 283.5 L216.5 284.6 L217.4 285.9 L218.3 285.8 L219.2 285.8 L220.1 286.7 L221.0 286.6 L221.9 288.0 L222.8 286.0 L223.7 286.6 L224.6 286.6 L225.5 287.5 L226.4 286.9 L227.3 287.5 L228.2 288.3 L229.1 287.3 L230.0 287.3 L230.9 288.5 L231.8 288.4 L232.7 290.1 L233.6 293.6 L234.5 293.6 L235.4 294.9 L236.3 293.4 L237.2 291.8 L238.1 292.5 L239.0 293.7 L239.9 293.3 L240.8 294.2 L241.7 294.8 L242.6 295.3 L243.5 295.2 L244.4 294.9 L245.3 295.8 L246.2 295.5 L247.1 297.5 L248.0 297.3 L248.9 296.5 L249.8 297.4 L250.7 298.0 L251.6 298.4 L252.5 300.1 L253.4 301.3 L254.3 303.3 L255.2 301.2 L255.3 69.4 L255.3 69.4 L256.2 74.6 L257.1 79.9 L258.0 85.1 L258.9 89.7 L259.8 94.3 L260.7 98.9 L261.6 102.8 L262.5 106.6 L263.4 110.3 L264.3 114.2 L265.2 119.1 L266.1 124.7 L267.0 130.2 L267.9 135.6 L268.8 140.6 L269.7 145.5 L270.6 155.4 L271.5 177.5 L272.4 195.8 L273.3 205.5 L274.2 210.2 L275.1 212.0 L276.0 212.8 L276.9 213.2 L277.8 213.8 L278.7 214.2 L279.6 215.3 L280.5 218.0 L281.4 228.2 L282.3 230.2 L283.2 232.2 L284.1 233.9 L285.0 235.7 L285.9 237.5 L286.8 240.3 L287.7 243.1 L288.6 245.6 L289.5 248.4 L290.4 251.2 L291.3 254.2 L292.2 257.1 L293.1 260.1 L294.0 263.7 L294.9 267.1 L295.8 267.0 L296.7 267.1 L297.6 267.2 L298.5 267.0 L299.4 267.0 L300.3 267.9 L301.2 269.1 L302.1 269.0 L303.0 269.4 L303.9 270.4 L304.8 272.7 L305.7 274.9 L306.6 274.3 L307.5 275.6 L308.4 276.4 L309.3 279.0 L310.2 280.0 L311.1 280.4 L312.0 281.7 L312.9 282.8 L313.8 284.5 L314.7 285.7 L315.6 286.1 L316.5 286.0 L317.4 288.0 L318.3 288.6 L319.2 288.7 L320.1 287.7 L321.0 287.5 L321.9 288.4 L322.8 289.3 L323.7 289.6 L324.6 289.8 L325.5 290.6 L326.4 289.9 L327.3 289.8 L328.2 290.5 L329.1 289.6 L330.0 290.7 L330.9 292.4 L331.8 293.2 L332.7 293.7 L333.6 293.2 L334.5 293.5 L335.4 294.0 L336.3 293.5 L337.2 293.6 L338.1 293.5 L339.0 293.4 L339.9 294.3 L340.8 294.8 L341.7 294.9 L342.6 295.6 L343.5 295.8 L344.4 295.1 L345.3 296.6 L346.2 297.3 L347.1 297.5 L348.0 298.3 L348.9 298.8 L349.8 299.8 L350.7 299.2 L351.6 299.6 L352.5 297.1 L353.4 296.4 L354.3 297.2 L355.2 299.9 L356.1 299.0 L357.0 297.8 L357.9 297.8 L358.8 298.7 L359.7 299.7 L360.6 298.8 L361.5 298.7 L362.4 299.3 L363.3 299.0 L364.2 300.2 L365.1 300.0 L366.0 299.8 L366.9 300.6 L367.8 300.9 L368.7 299.9 L369.6 300.7 L370.5 301.5 L371.4 300.9 L372.3 301.7 L373.2 301.7 L374.1 301.4 L375.0 301.9 L375.9 303.1 L376.8 303.7 L377.7 303.8 L378.6 303.9 L379.5 301.7 L380.4 301.1 L381.3 300.9 L382.2 300.7 L383.1 300.8 L384.0 301.2 L384.9 302.4 L385.8 302.6 L386.7 302.5 L387.6 302.5 L388.5 302.7 L389.4 303.4 L390.3 302.5 L391.2 302.3 L392.1 302.8 L393.0 306.2 L393.9 305.8 L394.8 304.2 L395.7 302.0 L396.6 301.4 L397.5 301.1 L398.4 298.7 L399.3 298.3 L400.2 298.9 L401.1 303.3 L402.0 302.9 L402.9 304.1 L403.8 302.3 L404.7 303.2 L405.6 303.9 L406.5 304.0 L407.4 304.2 L408.3 304.3 L409.2 308.0 L410.1 309.6 L411.0 309.7 L411.9 305.9 L412.8 306.3 L413.7 306.7 L414.6 307.9 L415.5 307.1 L416.4 307.0 L417.3 305.1 L418.2 305.7 L419.1 305.7 L420.0 307.1 L420.9 307.8 L421.8 307.3 L422.7 308.0 L423.6 307.9 L424.5 309.1 L425.4 308.8 L426.3 308.1 L427.2 310.0 L428.1 311.0 L429.0 310.2 L429.9 310.1 L430.8 309.9 L431.7 310.7 L432.6 312.6 L433.5 310.1 L434.4 308.2 L435.3 309.3 L436.2 310.6 L437.1 310.4 L438.0 311.0 L438.9 311.5 L439.8 311.0 L440.7 310.4 L441.6 310.4 L442.5 311.4 L443.4 311.5 L444.3 311.8 L445.2 311.5 L446.1 310.0 L447.0 312.5 L447.9 313.2 L448.8 314.2 L449.7 316.1 L450.6 314.6 L451.5 314.8 L452.4 315.4 L453.3 315.5 L454.2 316.1 L455.1 315.4 L456.0 315.8 L456.9 315.7 L457.8 317.7 L458.7 319.7 L459.6 319.3 L460.5 317.5 L461.4 318.0 L462.3 318.7 L463.2 321.4 L464.1 322.9 L465.0 322.5 L465.9 320.3" stroke="#00ffff"/>
<path d="M44.6 69.4 L45.5 72.1 L46.4 74.8 L47.3 77.9 L48.2 81.3 L49.1 84.6 L50.0 88.9 L50.9 93.4 L51.8 97.8 L52.7 102.3 L53.6 106.8 L54.5 111.4 L55.4 116.0 L56.3 119.5 L57.2 121.0 L58.1 125.9 L59.0 130.8 L59.9 135.8 L60.8 143.8 L61.7 152.2 L62.6 159.7 L63.5 166.8 L64.4 174.1 L65.3 174.9 L66.2 175.5 L67.1 175.8 L68.0 176.0 L68.9 176.0 L69.8 176.2 L70.7 180.9 L71.6 189.1 L72.5 193.5 L73.4 197.0 L74.3 200.1 L75.2 202.8 L76.1 204.5 L77.0 206.3 L77.9 206.7 L78.8 207.6 L79.7 209.3 L80.6 211.2 L81.5 215.4 L82.4 217.7 L83.3 221.8 L84.2 227.7 L85.1 229.4 L86.0 229.9 L86.9 231.4 L87.8 232.3 L88.7 233.1 L89.6 233.4 L90.5 232.8 L91.4 232.6 L92.3 233.4 L93.2 234.3 L94.1 235.3 L95.0 235.1 L95.9 232.6 L96.8 232.8 L97.7 233.0 L98.6 237.0 L99.5 239.4 L100.4 241.0 L101.3 242.8 L102.2 243.3 L103.1 244.0 L104.0 245.7 L104.9 246.4 L105.8 247.1 L106.7 248.2 L107.6 247.1 L108.5 247.4 L109.4 249.1 L110.3 248.8 L111.2 249.1 L112.1 249.5 L113.0 249.3 L113.9 248.5 L114.8 251.3 L115.7 251.1 L116.6 251.2 L117.5 250.8 L118.4 252.0 L119.3 252.9 L120.2 252.2 L121.1 251.1 L122.0 252.6 L122.9 255.4 L123.8 255.5 L124.7 256.6 L125.6 257.5 L126.5 259.3 L127.4 259.1 L128.3 260.8 L129.2 260.1 L130.1 260.4 L131.0 261.5 L131.9 261.5 L132.8 262.3 L133.7 261.7 L134.6 262.2 L135.5 263.9 L136.4 261.8 L137.3 261.9 L138.2 263.0 L139.1 264.4 L140.0 265.9 L140.9 265.1 L141.8 265.3 L142.7 265.5 L143.6 266.4 L144.5 266.7 L145.4 267.2 L146.3 268.1 L147.2 269.4 L148.1 269.5 L149.0 269.6 L149.9 269.6 L150.8 271.2 L151.7 271.8 L152.6 270.3 L153.5 271.4 L154.4 272.2 L155.3 273.5 L156.2 274.3 L157.1 274.9 L158.0 275.1 L158.9 274.4 L159.8 274.9 L160.7 273.6 L161.6 273.3 L162.5 274.6 L163.4 273.1 L164.3 274.0 L165.2 274.7 L166.1 276.9 L167.0 276.9 L167.9 276.8 L168.8 275.5 L169.7 275.4 L170.6 274.2 L171.5 273.1 L172.4 273.1 L173.3 272.6 L174.2 276.9 L175.1 279.1 L176.0 278.4 L176.9 277.7 L177.8 277.3 L178.7 278.3 L179.6 278.8 L180.5 278.6 L181.4 278.8 L182.3 277.8 L183.2 278.7 L184.1 279.9 L185.0 279.3 L185.9 279.0 L186.8 279.3 L187.7 279.7 L188.6 278.2 L189.5 279.5 L190.4 281.7 L191.3 280.6 L192.2 281.6 L193.1 282.4 L194.0 282.6 L194.9 283.0 L195.8 284.2 L196.7 284.3 L197.6 283.5 L198.5 283.9 L199.4 283.7 L200.3 285.4 L201.2 282.7 L202.1 282.6 L203.0 283.4 L203.9 284.7 L204.8 284.7 L205.7 286.3 L206.6 288.6 L207.5 289.0 L208.4 288.4 L209.3 288.1 L210.2 288.9 L211.1 289.1 L212.0 288.7 L212.9 288.3 L213.8 290.1 L214.7 291.0 L215.6 290.9 L216.5 291.4 L217.4 290.6 L218.3 290.2 L219.2 290.5 L220.1 293.1 L221.0 294.1 L221.9 293.8 L222.8 293.7 L223.7 293.5 L224.6 292.7 L225.5 291.5 L226.4 292.4 L227.3 293.3 L228.2 294.7 L229.1 294.6 L230.0 294.8 L230.9 297.6 L231.8 296.5 L232.7 296.4 L233.6 296.2 L234.5 296.5 L235.4 297.3 L236.3 295.4 L237.2 293.1 L238.1 291.6 L239.0 292.2 L239.9 292.3 L240.8 293.1 L241.7 292.6 L242.6 291.8 L243.5 292.8 L244.4 292.3 L245.3 290.5 L246.2 290.3 L247.1 291.5 L248.0 292.7 L248.9 293.7 L249.8 292.7 L250.7 293.5 L251.6 293.9 L252.5 295.4 L253.4 295.9 L254.3 296.3 L255.2 297.8 L255.3 69.4 L255.3 69.4 L256.2 71.0 L257.1 72.7 L258.0 74.3 L258.9 76.0 L259.8 77.6 L260.7 79.7 L261.6 81.8 L262.5 84.0 L263.4 86.2 L264.3 88.3 L265.2 90.7 L266.1 93.8 L267.0 97.0 L267.9 100.1 L268.8 103.3 L269.7 106.7 L270.6 110.3 L271.5 113.8 L272.4 127.5 L273.3 144.8 L274.2 159.0 L275.1 162.9 L276.0 163.9 L276.9 164.1 L277.8 164.6 L278.7 164.7 L279.6 164.7 L280.5 167.4 L281.4 178.4 L282.3 182.5 L283.2 185.0 L284.1 187.9 L285.0 190.6 L285.9 193.7 L286.8 196.6 L287.7 200.0 L288.6 202.9 L289.5 204.7 L290.4 206.7 L291.3 208.4 L292.2 209.9 L293.1 212.8 L294.0 216.8 L294.9 222.3 L295.8 227.8 L296.7 230.6 L297.6 230.8 L298.5 231.6 L299.4 231.8 L300.3 233.9 L301.2 234.2 L302.1 233.1 L303.0 234.5 L303.9 236.0 L304.8 239.0 L305.7 240.1 L306.6 242.2 L307.5 244.8 L308.4 245.0 L309.3 244.9 L310.2 247.1 L311.1 249.4 L312.0 248.6 L312.9 251.2 L313.8 253.2 L314.7 256.5 L315.6 262.1 L316.5 264.8 L317.4 263.8 L318.3 264.3 L319.2 264.7 L320.1 266.4 L321.0 264.9 L321.9 262.4 L322.8 261.5 L323.7 262.6 L324.6 264.5 L325.5 263.1 L326.4 264.5 L327.3 267.3 L328.2 268.7 L329.1 269.2 L330.0 269.9 L330.9 269.1 L331.8 270.4 L332.7 270.2 L333.6 270.3 L334.5 271.3 L335.4 272.2 L336.3 275.3 L337.2 276.9 L338.1 277.1 L339.0 278.0 L339.9 279.0 L340.8 280.7 L341.7 280.6 L342.6 279.9 L343.5 280.4 L344.4 279.2 L345.3 278.6 L346.2 278.2 L347.1 276.2 L348.0 276.1 L348.9 277.4 L349.8 276.9 L350.7 275.3 L351.6 276.4 L352.5 276.7 L353.4 276.6 L354.3 278.7 L355.2 276.6 L356.1 278.6 L357.0 279.9 L357.9 279.1 L358.8 279.9 L359.7 281.0 L360.6 283.4 L361.5 281.0 L362.4 277.7 L363.3 275.3 L364.2 274.7 L365.1 272.6 L366.0 276.4 L366.9 279.6 L367.8 283.5 L368.7 283.5 L369.6 282.5 L370.5 281.2 L371.4 284.3 L372.3 285.2 L373.2 284.8 L374.1 283.0 L375.0 283.3 L375.9 283.9 L376.8 286.1 L377.7 286.5 L378.6 286.4 L379.5 283.7 L380.4 284.0 L381.3 284.7 L382.2 286.9 L383.1 287.4 L384.0 286.5 L384.9 286.3 L385.8 288.1 L386.7 289.9 L387.6 287.5 L388.5 287.2 L389.4 287.4 L390.3 291.8 L391.2 293.4 L392.1 291.9 L393.0 290.5 L393.9 291.5 L394.8 291.3 L395.7 293.0 L396.6 292.0 L397.5 290.7 L398.4 287.3 L399.3 287.4 L400.2 287.1 L401.1 291.6 L402.0 290.8 L402.9 290.6 L403.8 288.1 L404.7 288.2 L405.6 288.6 L406.5 288.7 L407.4 288.7 L408.3 289.3 L409.2 289.1 L410.1 289.4 L411.0 290.2 L411.9 289.6 L412.8 290.0 L413.7 289.5 L414.6 290.7 L415.5 292.2 L416.4 293.4 L417.3 292.5 L418.2 293.3 L419.1 293.7 L420.0 296.4 L420.9 296.8 L421.8 297.1 L422.7 297.5 L423.6 298.0 L424.5 297.7 L425.4 298.3 L426.3 299.3 L427.2 300.6 L428.1 300.9 L429.0 301.0 L429.9 299.8 L430.8 301.3 L431.7 302.3 L432.6 301.7 L433.5 303.5 L434.4 304.6 L435.3 304.6 L436.2 301.7 L437.1 300.8 L438.0 299.9 L438.9 300.9 L439.8 301.8 L440.7 302.3 L441.6 301.6 L442.5 301.7 L443.4 302.9 L444.3 304.7 L445.2 302.8 L446.1 303.6 L447.0 305.9 L447.9 306.6 L448.8 307.0 L449.7 304.5 L450.6 306.1 L451.5 307.0 L452.4 307.1 L453.3 308.2 L454.2 309.2 L455.1 312.8 L456.0 312.6 L456.9 310.5 L457.8 306.7 L458.7 305.2 L459.6 304.3 L460.5 304.7 L461.4 304.4 L462.3 302.5 L463.2 302.4 L464.1 302.8 L465.0 304.4 L465.9 305.8" stroke="#000000"/>
<path d="M44.6 69.4 L45.5 76.8 L46.4 84.2 L47.3 88.7 L48.2 92.9 L49.1 97.1 L50.0 101.3 L50.9 105.5 L51.8 111.5 L52.7 117.6 L53.6 123.7 L54.5 129.9 L55.4 136.0 L56.3 143.6 L57.2 151.2 L58.1 158.4 L59.0 161.9 L59.9 165.5 L60.8 169.1 L61.7 172.6 L62.6 187.6 L63.5 200.2 L64.4 208.7 L65.3 209.7 L66.2 210.3 L67.1 210.2 L68.0 210.2 L68.9 210.4 L69.8 210.6 L70.7 214.4 L71.6 222.3 L72.5 224.8 L73.4 226.2 L74.3 227.4 L75.2 228.8 L76.1 230.3 L77.0 231.1 L77.9 232.5 L78.8 234.4 L79.7 236.7 L80.6 237.5 L81.5 238.0 L82.4 237.5 L83.3 239.2 L84.2 240.5 L85.1 240.8 L86.0 241.2 L86.9 242.6 L87.8 242.4 L88.7 242.2 L89.6 242.7 L90.5 241.1 L91.4 240.5 L92.3 241.2 L93.2 244.7 L94.1 245.6 L95.0 246.2 L95.9 246.0 L96.8 247.0 L97.7 247.4 L98.6 247.0 L99.5 248.2 L100.4 249.6 L101.3 251.4 L102.2 252.3 L103.1 253.0 L104.0 253.0 L104.9 254.0 L105.8 254.7 L106.7 253.8 L107.6 252.4 L108.5 252.6 L109.4 253.1 L110.3 254.0 L111.2 254.4 L112.1 253.7 L113.0 253.8 L113.9 254.8 L114.8 254.4 L115.7 254.8 L116.6 255.3 L117.5 256.6 L118.4 256.9 L119.3 257.8 L120.2 257.6 L121.1 258.1 L122.0 258.1 L122.9 258.9 L123.8 259.4 L124.7 260.2 L125.6 261.6 L126.5 261.7 L127.4 261.4 L128.3 260.7 L129.2 260.8 L130.1 260.6 L131.0 260.0 L131.9 260.1 L132.8 260.3 L133.7 260.5 L134.6 260.0 L135.5 260.2 L136.4 259.7 L137.3 259.4 L138.2 259.0 L139.1 260.9 L140.0 262.3 L140.9 262.2 L141.8 262.5 L142.7 263.1 L143.6 263.3 L144.5 263.5 L145.4 264.6 L146.3 264.6 L147.2 265.0 L148.1 265.1 L149.0 265.4 L149.9 264.7 L150.8 265.7 L151.7 267.1 L152.6 267.5 L153.5 267.3 L154.4 267.8 L155.3 268.5 L156.2 268.0 L157.1 267.9 L158.0 271.4 L158.9 271.2 L159.8 270.4 L160.7 269.9 L161.6 270.6 L162.5 270.2 L163.4 271.7 L164.3 272.8 L165.2 273.6 L166.1 272.2 L167.0 272.0 L167.9 272.0 L168.8 272.5 L169.7 273.1 L170.6 272.6 L171.5 273.1 L172.4 273.3 L173.3 273.9 L174.2 274.7 L175.1 274.4 L176.0 274.6 L176.9 274.6 L177.8 275.1 L178.7 275.5 L179.6 275.6 L180.5 274.8 L181.4 275.7 L182.3 277.3 L183.2 277.5 L184.1 277.0 L185.0 277.2 L185.9 277.1 L186.8 277.0 L187.7 276.1 L188.6 276.3 L189.5 276.7 L190.4 277.9 L191.3 278.5 L192.2 278.8 L193.1 279.3 L194.0 280.1 L194.9 281.2 L195.8 282.7 L196.7 282.3 L197.6 281.6 L198.5 283.3 L199.4 285.2 L200.3 285.2 L201.2 283.8 L202.1 283.5 L203.0 283.9 L203.9 284.3 L204.8 283.6 L205.7 283.4 L206.6 282.9 L207.5 283.0 L208.4 283.8 L209.3 284.7 L210.2 284.5 L211.1 284.2 L212.0 285.1 L212.9 285.4 L213.8 285.9 L214.7 285.0 L215.6 285.6 L216.5 286.5 L217.4 288.0 L218.3 288.7 L219.2 288.2 L220.1 288.5 L221.0 288.6 L221.9 289.5 L222.8 287.7 L223.7 288.3 L224.6 288.2 L225.5 288.7 L226.4 288.7 L227.3 289.4 L228.2 289.8 L229.1 288.7 L230.0 289.1 L230.9 290.4 L231.8 290.6 L232.7 292.0 L233.6 293.8 L234.5 292.9 L235.4 293.8 L236.3 293.4 L237.2 292.6 L238.1 293.3 L239.0 293.8 L239.9 293.5 L240.8 294.3 L241.7 295.3 L242.6 295.5 L243.5 295.7 L244.4 295.3 L245.3 295.3 L246.2 294.7 L247.1 296.8 L248.0 297.2 L248.9 296.4 L249.8 296.4 L250.7 297.4 L251.6 297.8 L252.5 299.6 L253.4 300.9 L254.3 302.7 L255.2 301.7 L255.3 69.4 L255.3 69.4 L256.2 74.6 L257.1 79.8 L258.0 85.0 L258.9 89.5 L259.8 94.0 L260.7 98.5 L261.6 102.4 L262.5 106.1 L263.4 109.7 L264.3 113.4 L265.2 118.0 L266.1 123.5 L267.0 128.9 L267.9 134.4 L268.8 139.3 L269.7 144.1 L270.6 148.9 L271.5 169.1 L272.4 187.0 L273.3 196.2 L274.2 202.7 L275.1 204.9 L276.0 205.9 L276.9 206.3 L277.8 206.6 L278.7 206.8 L279.6 207.0 L280.5 207.3 L281.4 219.8 L282.3 221.7 L283.2 224.1 L284.1 226.3 L285.0 228.3 L285.9 230.0 L286.8 232.8 L287.7 235.3 L288.6 237.6 L289.5 240.3 L290.4 243.5 L291.3 246.5 L292.2 249.6 L293.1 253.3 L294.0 257.1 L294.9 260.5 L295.8 261.1 L296.7 261.4 L297.6 261.6 L298.5 262.6 L299.4 262.3 L300.3 263.3 L301.2 261.2 L302.1 260.6 L303.0 261.3 L303.9 263.6 L304.8 266.2 L305.7 268.4 L306.6 269.8 L307.5 271.3 L308.4 271.7 L309.3 273.9 L310.2 275.4 L311.1 276.3 L312.0 276.5 L312.9 277.9 L313.8 279.7 L314.7 281.9 L315.6 282.4 L316.5 281.8 L317.4 283.6 L318.3 284.3 L319.2 284.3 L320.1 283.9 L321.0 284.3 L321.9 284.9 L322.8 285.2 L323.7 285.0 L324.6 285.6 L325.5 287.3 L326.4 287.4 L327.3 287.0 L328.2 287.9 L329.1 288.2 L330.0 288.6 L330.9 288.8 L331.8 289.8 L332.7 290.1 L333.6 289.2 L334.5 289.9 L335.4 290.8 L336.3 290.6 L337.2 290.8 L338.1 290.8 L339.0 290.3 L339.9 290.9 L340.8 291.7 L341.7 292.0 L342.6 291.9 L343.5 292.1 L344.4 292.0 L345.3 293.2 L346.2 293.8 L347.1 295.3 L348.0 295.3 L348.9 295.5 L349.8 295.2 L350.7 294.8 L351.6 295.3 L352.5 293.8 L353.4 294.0 L354.3 295.0 L355.2 296.8 L356.1 295.4 L357.0 295.0 L357.9 296.4 L358.8 297.1 L359.7 298.4 L360.6 297.1 L361.5 297.3 L362.4 297.7 L363.3 297.8 L364.2 298.5 L365.1 298.6 L366.0 298.4 L366.9 299.0 L367.8 299.9 L368.7 299.0 L369.6 299.9 L370.5 300.3 L371.4 300.2 L372.3 301.1 L373.2 301.8 L374.1 301.2 L375.0 301.1 L375.9 302.0 L376.8 302.7 L377.7 302.7 L378.6 303.0 L379.5 301.5 L380.4 300.8 L381.3 300.9 L382.2 300.5 L383.1 300.9 L384.0 301.2 L384.9 303.4 L385.8 303.8 L386.7 303.4 L387.6 302.3 L388.5 302.7 L389.4 303.3 L390.3 303.1 L391.2 302.9 L392.1 302.7 L393.0 304.8 L393.9 305.3 L394.8 304.9 L395.7 302.8 L396.6 303.0 L397.5 303.2 L398.4 302.6 L399.3 303.0 L400.2 303.5 L401.1 306.6 L402.0 306.3 L402.9 307.4 L403.8 306.2 L404.7 307.1 L405.6 307.7 L406.5 307.1 L407.4 307.3 L408.3 307.7 L409.2 310.8 L410.1 312.3 L411.0 312.7 L411.9 310.8 L412.8 311.0 L413.7 311.5 L414.6 312.3 L415.5 311.8 L416.4 311.6 L417.3 310.9 L418.2 311.6 L419.1 311.5 L420.0 311.4 L420.9 311.9 L421.8 312.0 L422.7 312.6 L423.6 312.2 L424.5 313.2 L425.4 313.0 L426.3 312.6 L427.2 313.8 L428.1 315.3 L429.0 314.9 L429.9 314.6 L430.8 314.7 L431.7 315.0 L432.6 316.0 L433.5 314.8 L434.4 314.1 L435.3 314.3 L436.2 315.1 L437.1 315.4 L438.0 316.2 L438.9 316.8 L439.8 315.9 L440.7 315.5 L441.6 315.6 L442.5 316.0 L443.4 315.3 L444.3 315.6 L445.2 315.4 L446.1 314.6 L447.0 315.6 L447.9 315.6 L448.8 316.3 L449.7 317.6 L450.6 317.0 L451.5 317.6 L452.4 318.6 L453.3 318.6 L454.2 319.2 L455.1 318.0 L456.0 318.1 L456.9 318.2 L457.8 319.6 L458.7 321.0 L459.6 320.5 L460.5 319.9 L461.4 320.7 L462.3 321.5 L463.2 322.1 L464.1 323.3 L465.0 323.7 L465.9 321.8" stroke="#ff00ff"/>
</g>
<g stroke="#000" stroke-width="1" fill="none">
<line x1="44.5" y1="3.3" x2="44.5" y2="332.7"/>
<line x1="466.5" y1="3.3" x2="466.5" y2="332.5"/>
<line x1="44" y1="332.15" x2="467" y2="332.15" stroke-width="1.3"/>
<line x1="44.1" y1="3.8" x2="467" y2="3.8" stroke="#555" stroke-width="1.2"/>
<line x1="44.5" y1="332" x2="44.5" y2="327.6"/>
<line x1="44.5" y1="3.8" x2="44.5" y2="8"/>
<line x1="114.8" y1="332" x2="114.8" y2="327.6"/>
<line x1="114.8" y1="3.8" x2="114.8" y2="8"/>
<line x1="185.2" y1="332" x2="185.2" y2="327.6"/>
<line x1="185.2" y1="3.8" x2="185.2" y2="8"/>
<line x1="255.5" y1="332" x2="255.5" y2="327.6"/>
<line x1="255.5" y1="3.8" x2="255.5" y2="8"/>
<line x1="325.8" y1="332" x2="325.8" y2="327.6"/>
<line x1="325.8" y1="3.8" x2="325.8" y2="8"/>
<line x1="396.2" y1="332" x2="396.2" y2="327.6"/>
<line x1="396.2" y1="3.8" x2="396.2" y2="8"/>
<line x1="466.5" y1="332" x2="466.5" y2="327.6"/>
<line x1="466.5" y1="3.8" x2="466.5" y2="8"/>
<line x1="44.6" y1="332.0" x2="48.8" y2="332.0"/>
<line x1="466.5" y1="332.0" x2="462.3" y2="332.0"/>
<line x1="44.6" y1="266.4" x2="48.8" y2="266.4"/>
<line x1="466.5" y1="266.4" x2="462.3" y2="266.4"/>
<line x1="44.6" y1="200.7" x2="48.8" y2="200.7"/>
<line x1="466.5" y1="200.7" x2="462.3" y2="200.7"/>
<line x1="44.6" y1="135.1" x2="48.8" y2="135.1"/>
<line x1="466.5" y1="135.1" x2="462.3" y2="135.1"/>
<line x1="44.6" y1="69.4" x2="48.8" y2="69.4"/>
<line x1="466.5" y1="69.4" x2="462.3" y2="69.4"/>
<line x1="44.6" y1="3.8" x2="48.8" y2="3.8"/>
<line x1="466.5" y1="3.8" x2="462.3" y2="3.8"/>
</g>
<rect x="237.5" y="10.5" width="222.5" height="104" fill="#fff" stroke="#222" stroke-width="1"/>
<line x1="244.8" y1="19.1" x2="283" y2="19.1" stroke="#0000ff" stroke-width="2.6"/>
<line x1="244.8" y1="33.5" x2="283" y2="33.5" stroke="#ff0000" stroke-width="2.6"/>
<line x1="244.8" y1="47.9" x2="283" y2="47.9" stroke="#ffff00" stroke-width="2.6"/>
<line x1="244.8" y1="62.3" x2="283" y2="62.3" stroke="#00ff00" stroke-width="2.6"/>
<line x1="244.8" y1="76.7" x2="283" y2="76.7" stroke="#00ffff" stroke-width="2.6"/>
<line x1="244.8" y1="91.1" x2="283" y2="91.1" stroke="#000000" stroke-width="2.6"/>
<line x1="244.8" y1="105.5" x2="283" y2="105.5" stroke="#ff00ff" stroke-width="2.6"/>
<line x1="108.0" y1="307.6" x2="122.7" y2="284.5" stroke="#000" stroke-width="3.1"/><polygon points="128.5,275.4 126.7,290.2 122.7,284.5 115.9,283.3" fill="#000"/>
<line x1="128.3" y1="312.7" x2="143.2" y2="286.0" stroke="#000" stroke-width="3.1"/><polygon points="148.5,276.5 147.5,291.4 143.2,286.0 136.3,285.2" fill="#000"/>
<line x1="201.2" y1="235.4" x2="192.6" y2="279.2" stroke="#000" stroke-width="2.6"/><polygon points="190.3,291.0 187.3,274.1 192.6,279.2 199.5,276.5" fill="#000"/>
<line x1="228.2" y1="236.7" x2="218.7" y2="281.9" stroke="#000" stroke-width="2.6"/><polygon points="216.3,293.7 213.5,276.7 218.7,281.9 225.6,279.3" fill="#000"/>
<line x1="351.8" y1="229.3" x2="342.8" y2="280.8" stroke="#000" stroke-width="2.6"/><polygon points="340.7,292.6 337.4,275.8 342.8,280.8 349.6,277.9" fill="#000"/>
<line x1="376.0" y1="240.7" x2="365.9" y2="300.4" stroke="#000" stroke-width="2.6"/><polygon points="363.9,312.2 360.5,295.4 365.9,300.4 372.7,297.4" fill="#000"/>
<line x1="412.0" y1="245.3" x2="404.1" y2="301.4" stroke="#000" stroke-width="2.6"/><polygon points="402.5,313.3 398.5,296.6 404.1,301.4 410.8,298.3" fill="#000"/>
</svg>
<div style="position:absolute;left:0;top:0;width:473px;height:370px;filter:grayscale(1)"><div class="t yt" style="top:326.2px">−20</div>
<div class="t yt" style="top:260.6px">−15</div>
<div class="t yt" style="top:194.9px">−10</div>
<div class="t yt" style="top:129.3px">−5</div>
<div class="t yt" style="top:63.6px">0</div>
<div class="t yt" style="top:-2.0px">5</div>
<div class="t xt" style="left:24.5px;top:337.8px">0</div>
<div class="t xt" style="left:94.8px;top:337.8px">2</div>
<div class="t xt" style="left:165.2px;top:337.8px">4</div>
<div class="t xt" style="left:235.5px;top:337.8px">6</div>
<div class="t xt" style="left:305.8px;top:337.8px">8</div>
<div class="t xt" style="left:376.2px;top:337.8px">10</div>
<div class="t xt" style="left:446.5px;top:337.8px">12</div>
<div class="t s" style="left:205.8px;top:351.6px;font-size:13px;letter-spacing:0.5px">Iteration Number</div>
<div class="t s" style="left:6.3px;top:169px;font-size:13.5px;transform:translate(-50%,-50%) rotate(-90deg);letter-spacing:0.3px">NMSD (dB)</div>
<div class="t s" style="left:97.9px;top:123px;font-size:10.5px;letter-spacing:0.3px;">Input: Speech</div>
<div class="t" style="left:437px;top:359px;font-size:13px;-webkit-text-stroke:0.35px #000">x 10<span style="font-size:9.5px;position:relative;top:-9px;left:0.5px">4</span></div>
<div class="t lg" style="top:11.0px">(a) NSAF</div>
<div class="t lg" style="top:25.4px">(b) DS-NSAF</div>
<div class="t lg" style="top:39.8px">(c) FS-NSAF</div>
<div class="t lg" style="top:54.2px">(d) SPU-NSAF,</div>
<div class="t lg" style="left:380.0px;top:54.2px"><i>B</i></div>
<div class="t lg" style="left:392.6px;top:54.2px"><span style="display:inline-block;transform:scaleX(1.3);transform-origin:left center">=</span></div>
<div class="t lg" style="left:404.0px;top:54.2px">4,</div>
<div class="t lg" style="left:417.0px;top:54.2px"><i>S</i></div>
<div class="t lg" style="left:429.5px;top:54.2px"><span style="display:inline-block;transform:scaleX(1.3);transform-origin:left center">=</span></div>
<div class="t lg" style="left:444.4px;top:54.2px">3</div>
<div class="t lg" style="top:68.6px">(e) SPU-NSAF,</div>
<div class="t lg" style="left:380.0px;top:68.6px"><i>B</i></div>
<div class="t lg" style="left:392.6px;top:68.6px"><span style="display:inline-block;transform:scaleX(1.3);transform-origin:left center">=</span></div>
<div class="t lg" style="left:404.0px;top:68.6px">4,</div>
<div class="t lg" style="left:417.0px;top:68.6px"><i>S</i></div>
<div class="t lg" style="left:429.5px;top:68.6px"><span style="display:inline-block;transform:scaleX(1.3);transform-origin:left center">=</span></div>
<div class="t lg" style="left:444.4px;top:68.6px">2</div>
<div class="t lg" style="top:83.0px">(f) Proposed SR-NSAF</div>
<div class="t lg" style="top:97.4px">(g) Proposed MSR-NSAF</div>
<div class="t an" style="left:84.8px;top:307.0px">(a)</div>
<div class="t an" style="left:113.3px;top:310.8px">(b)</div>
<div class="t an" style="left:187.0px;top:220.8px">(f)</div>
<div class="t an" style="left:213.7px;top:222.8px">(e)</div>
<div class="t an" style="left:337.3px;top:214.6px">(g)</div>
<div class="t an" style="left:361.0px;top:227.4px">(d)</div>
<div class="t an" style="left:397.9px;top:230.7px">(c)</div></div>
</body></html>
